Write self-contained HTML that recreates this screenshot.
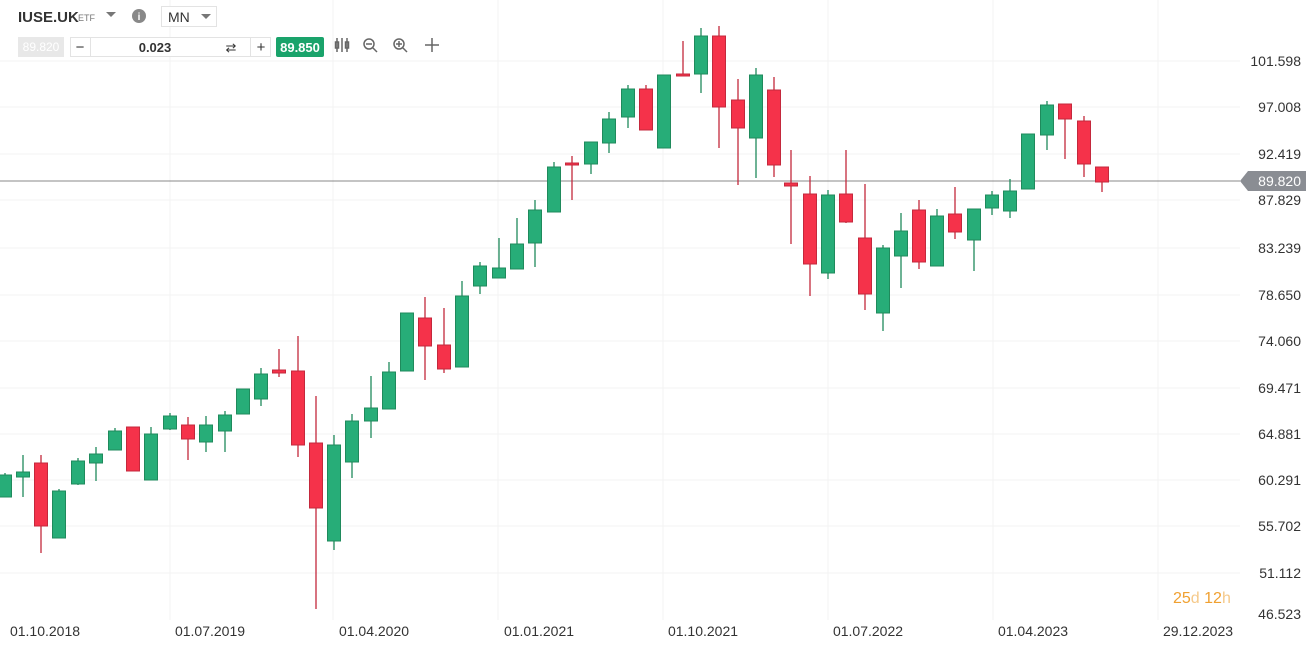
<!DOCTYPE html>
<html><head><meta charset="utf-8"><style>
body{margin:0;background:#fff;width:1315px;height:649px;overflow:hidden;font-family:"Liberation Sans",sans-serif}
svg{position:absolute;left:0;top:0}
</style></head><body>
<svg width="1315" height="649" xmlns="http://www.w3.org/2000/svg" font-family="Liberation Sans, sans-serif">
<g stroke="#f3f3f3" stroke-width="1">
<line x1="170" y1="0" x2="170" y2="620"/><line x1="333" y1="0" x2="333" y2="620"/><line x1="498" y1="0" x2="498" y2="620"/><line x1="663" y1="0" x2="663" y2="620"/><line x1="828" y1="0" x2="828" y2="620"/><line x1="993" y1="0" x2="993" y2="620"/><line x1="1158" y1="0" x2="1158" y2="620"/>
<line x1="0" y1="61" x2="1240" y2="61"/><line x1="0" y1="107" x2="1240" y2="107"/><line x1="0" y1="154" x2="1240" y2="154"/><line x1="0" y1="200" x2="1240" y2="200"/><line x1="0" y1="248" x2="1240" y2="248"/><line x1="0" y1="295" x2="1240" y2="295"/><line x1="0" y1="341" x2="1240" y2="341"/><line x1="0" y1="388" x2="1240" y2="388"/><line x1="0" y1="434" x2="1240" y2="434"/><line x1="0" y1="480" x2="1240" y2="480"/><line x1="0" y1="526" x2="1240" y2="526"/><line x1="0" y1="573" x2="1240" y2="573"/>
</g>
<line x1="0" y1="181" x2="1240" y2="181" stroke="#888" stroke-width="1"/>
<g id="c"></g>
<g font-size="14" fill="#333" text-anchor="end">
<text x="1301" y="66">101.598</text><text x="1301" y="112">97.008</text><text x="1301" y="159">92.419</text><text x="1301" y="205">87.829</text><text x="1301" y="253">83.239</text><text x="1301" y="300">78.650</text><text x="1301" y="346">74.060</text><text x="1301" y="393">69.471</text><text x="1301" y="439">64.881</text><text x="1301" y="485">60.291</text><text x="1301" y="531">55.702</text><text x="1301" y="578">51.112</text><text x="1301" y="619">46.523</text>
</g>
<path d="M1240 181 L1248 171 H1306 V191 H1248 Z" fill="#8a8d93"/>
<text x="1301" y="186" font-size="14" fill="#fff" text-anchor="end">89.820</text>
<g font-size="14" fill="#333" text-anchor="middle">
<text x="45" y="636">01.10.2018</text><text x="210" y="636">01.07.2019</text><text x="374" y="636">01.04.2020</text><text x="539" y="636">01.01.2021</text><text x="703" y="636">01.10.2021</text><text x="868" y="636">01.07.2022</text><text x="1033" y="636">01.04.2023</text><text x="1198" y="636">29.12.2023</text>
</g>
<text x="1173" y="603" font-size="16" fill="#f0a030">25<tspan fill="#f5c98a">d</tspan> 12<tspan fill="#f5c98a">h</tspan></text>
<!-- toolbar -->
<text x="18" y="22" font-size="15" font-weight="bold" fill="#333">IUSE.UK</text>
<text x="78" y="21" font-size="9" fill="#777">ETF</text>
<path d="M106 12 L116 12 L111 17 Z" fill="#777"/>
<circle cx="139" cy="16" r="7" fill="#888"/><text x="139" y="20" font-size="10" fill="#fff" text-anchor="middle" font-weight="bold">i</text>
<rect x="161.5" y="6.5" width="55" height="20" fill="#fff" stroke="#e3e3e3"/>
<text x="168" y="22" font-size="14" fill="#333">MN</text>
<path d="M201 14 L211 14 L206 19 Z" fill="#777"/>
<rect x="18" y="37" width="46" height="20" fill="#e8e8e8"/>
<text x="41" y="51" font-size="12" fill="#fff" text-anchor="middle">89.820</text>
<rect x="70.5" y="37.5" width="200" height="19" fill="#fff" stroke="#e3e3e3"/>
<line x1="90.5" y1="38" x2="90.5" y2="56" stroke="#e3e3e3"/><line x1="250.5" y1="38" x2="250.5" y2="56" stroke="#e3e3e3"/>
<text x="80" y="52" font-size="15" fill="#333" text-anchor="middle">−</text>
<text x="155" y="52" font-size="13" font-weight="bold" fill="#333" text-anchor="middle">0.023</text>
<text x="231" y="52" font-size="13" fill="#333" text-anchor="middle">⇄</text>
<text x="261" y="52" font-size="15" fill="#333" text-anchor="middle">+</text>
<rect x="276" y="37" width="48" height="20" rx="2" fill="#1aa36b"/>
<text x="300" y="52" font-size="13" fill="#fff" text-anchor="middle" font-weight="bold">89.850</text>
<g stroke="#666" stroke-width="1.5" fill="none">
<path d="M337 38v14M342 38v14M347 38v14"/><rect x="335.5" y="42" width="3" height="6"/><rect x="345.5" y="42" width="3" height="6"/>
<circle cx="369" cy="44" r="5"/><path d="M373 48l4 4M366 44h6"/>
<circle cx="399" cy="44" r="5"/><path d="M403 48l4 4M396 44h6M399 41v6"/>
<path d="M432 38v14M425 45h14"/>
</g>
</svg>
<script>
var d=[[5,475,497,473,497,1],[23,472,477,455,497,1],[41,463,526,455,553,0],[59,491,538,489,538,1],[78,461,484,458,485,1],[96,454,463,447,481,1],[115,431,450,428,450,1],[133,427,471,427,471,0],[151,434,480,427,480,1],[170,416,429,413,430,1],[188,425,439,417,460,0],[206,425,442,416,452,1],[225,415,431,411,452,1],[243,389,414,389,414,1],[261,374,399,368,406,1],[279,370,373,349,377,0],[298,371,445,336,457,0],[316,443,508,396,609,0],[334,445,541,435,550,1],[352,421,462,414,478,1],[371,408,421,376,438,1],[389,372,409,362,409,1],[407,313,371,313,371,1],[425,318,346,297,380,0],[444,345,369,308,373,0],[462,296,367,281,367,1],[480,266,286,262,294,1],[499,268,278,238,278,1],[517,244,269,218,269,1],[535,210,243,200,267,1],[554,167,212,162,212,1],[572,163,165,156,200,0],[591,142,164,142,174,1],[609,119,143,112,153,1],[628,89,117,85,128,1],[646,89,130,85,130,0],[664,75,148,75,148,1],[683,74,76,41,76,0],[701,36,74,28,93,1],[719,36,107,26,148,0],[738,100,128,79,185,0],[756,75,138,68,178,1],[774,90,165,77,177,0],[791,183,186,150,244,0],[810,194,264,176,296,0],[828,195,273,190,279,1],[846,194,222,150,223,0],[865,238,294,184,310,0],[883,248,313,245,331,1],[901,231,256,213,288,1],[919,210,262,200,269,0],[937,216,266,209,266,1],[955,214,232,187,239,0],[974,209,240,209,271,1],[992,195,208,191,215,1],[1010,191,211,179,218,1],[1028,134,189,134,189,1],[1047,105,135,101,150,1],[1065,104,119,104,159,0],[1084,121,164,116,177,0],[1102,167,182,167,192,0]];
var s='';d.forEach(function(c){var f=c[5]?'#27ad78':'#f5324a',k=c[5]?'#1f8a5c':'#c4283c';
s+='<line x1="'+c[0]+'" y1="'+c[3]+'" x2="'+c[0]+'" y2="'+c[4]+'" stroke="'+k+'" stroke-width="1.3"/>';
s+='<rect x="'+(c[0]-6.5)+'" y="'+c[1]+'" width="13" height="'+Math.max(2,c[2]-c[1])+'" fill="'+f+'" stroke="'+k+'" stroke-width="1"/>';});
document.getElementById('c').innerHTML=s;
</script>
</body></html>
